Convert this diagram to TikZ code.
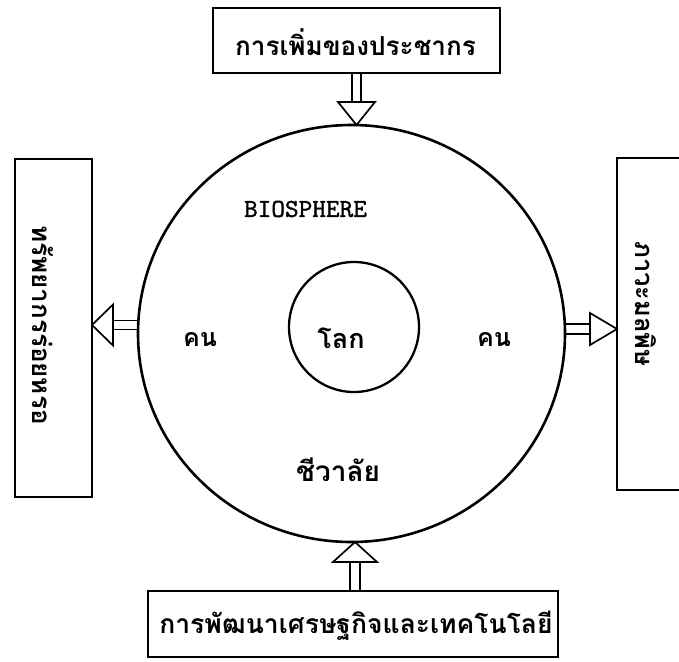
\documentclass[tikz,border=0pt]{standalone}
\usepackage{fontspec}
\usetikzlibrary{shapes.geometric,calc}
\newfontfamily\thai[Script=Thai]{Loma}
\newfontfamily\typew[Extension=.otf, FakeBold=1.2]{lmmono10-regular}
\begin{document}
\begin{tikzpicture}[x=1pt,y=-1pt,
  frame/.style={draw, line width=1.8pt, inner sep=0pt, outer sep=0pt},
  thaitxt/.style={font=\thai\bfseries\fontsize{26}{30}\selectfont, inner sep=0pt},
  lattxt/.style={font=\typew\fontsize{26}{30}\selectfont, inner sep=0pt},
  shaft/.style={line width=1.6pt},
  tip/.style={line width=1.7pt, line join=miter}]
\useasboundingbox (0,0) rectangle (679,661);
\clip (0,0) rectangle (679,661);
\fill[white] (0,0) rectangle (679,661);

% boxes
\node[frame, minimum width=287pt, minimum height=65pt] (tbox) at (356.5,40.5) {};
\node[frame, minimum width=77pt, minimum height=338pt] (lbox) at (53.5,328) {};
\node[frame, minimum width=90pt, minimum height=332pt] (rbox) at (662,324) {};
\node[frame, minimum width=410pt, minimum height=66pt] (bbox) at (353,624) {};

% box texts
\node[thaitxt, font=\thai\bfseries\fontsize{26.1}{30}\selectfont] (ttext) at (355.5,42) {การเพิ่มของประชากร};
\node[thaitxt, rotate=-90] (ltext) at (43,325) {ทรัพยากรร่อยหรอ};
\node[thaitxt, font=\thai\bfseries\fontsize{25.5}{30}\selectfont, rotate=-90] (rtext) at (646,304) {ภาวะมลพิษ};
\node[thaitxt, font=\thai\bfseries\fontsize{26.5}{30}\selectfont] (btext) at (356,626) {การพัฒนาเศรษฐกิจและเทคโนโลยี};

% circles
\node[draw, ellipse, line width=2.6pt, minimum width=427pt, minimum height=417pt, inner sep=0pt, outer sep=0pt] (bio) at (351.5,333.5) {};
\node[draw, circle, line width=2.3pt, minimum size=130pt, inner sep=0pt, outer sep=0pt] (earth) at (354,327) {};

% inner texts
\node[lattxt] (biosph) at (305.5,209) {BIOSPHERE};
\node[thaitxt, font=\thai\bfseries\fontsize{27}{30}\selectfont] (world) at (341,338) {โลก};
\node[thaitxt, font=\thai\bfseries\fontsize{25}{30}\selectfont] (manl) at (200,340) {คน};
\node[thaitxt, font=\thai\bfseries\fontsize{25}{30}\selectfont] (manr) at (494,340) {คน};
\node[thaitxt, font=\thai\bfseries\fontsize{28}{30}\selectfont] (life) at (338,470) {ชีวาลัย};

% top arrow
\coordinate (ta) at (tbox.south |- bio.north);
\draw[tip] (ta) -- ++(-18.5,-23) -- ++(37,0) -- cycle;
\draw[shaft] ($(tbox.south)+(-4.5,0)$) -- ($(ta)+(-4.5,-23)$);
\draw[shaft] ($(tbox.south)+(4.5,0)$) -- ($(ta)+(4.5,-23)$);

% left arrow
\coordinate (la) at ($(lbox.east)+(0,-3)$);
\draw[tip] (la) -- ++(21,-20.5) -- ++(0,41) -- cycle;
\draw[shaft] ($(la)+(21,-4.5)$) -- ($(la -| bio.west)+(0,-4.5)$);
\draw[shaft] ($(la)+(21,4.5)$) -- ($(la -| bio.west)+(0,4.5)$);

% right arrow
\coordinate (ra) at ($(rbox.west)+(0,5)$);
\draw[tip] (ra) -- ++(-27,-16) -- ++(0,32) -- cycle;
\draw[shaft] ($(ra -| bio.east)+(0,-5)$) -- ($(ra)+(-27,-5)$);
\draw[shaft] ($(ra -| bio.east)+(0,5)$) -- ($(ra)+(-27,5)$);

% bottom arrow
\coordinate (ba) at ($(bio.south)+(3.5,0)$);
\draw[tip] (ba) -- ++(-22,20) -- ++(44,0) -- cycle;
\draw[shaft] ($(ba)+(-5,20)$) -- ($(ba |- bbox.north)+(-5,0)$);
\draw[shaft] ($(ba)+(5,20)$) -- ($(ba |- bbox.north)+(5,0)$);
\end{tikzpicture}
\end{document}
